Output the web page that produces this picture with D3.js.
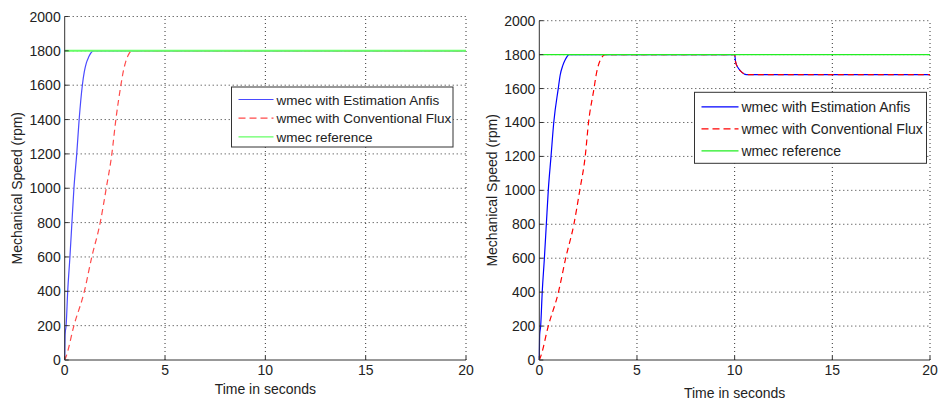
<!DOCTYPE html>
<html>
<head>
<meta charset="utf-8">
<script src="https://cdn.jsdelivr.net/npm/d3@7"></script>
<style>
  body { margin: 0; background: #fff; }
  text { font-family: "Liberation Sans", Arial, sans-serif; fill: #222; }
</style>
</head>
<body>
<script>
// x ticks, y ticks
const xTicks = [0, 5, 10, 15, 20]
const yTicks = [0, 200, 400, 600, 800, 1000, 1200, 1400, 1600, 1800, 2000]
const legendLabels = ["wmec with Estimation Anfis", "wmec with Conventional Flux", "wmec reference"]

// left figure: start-up only
const leftAnfisT = [0, 0.02, 0.07, 0.15, 0.26, 0.36, 0.46, 0.6, 0.72, 0.88, 0.98, 1.08, 1.2, 1.3, 1.43, 20]
const leftAnfisW = [0, 150, 200, 400, 600, 800, 1000, 1200, 1400, 1600, 1680, 1730, 1765, 1787, 1800, 1800]
const leftFluxT = [0, 0.07, 0.46, 0.98, 1.35, 1.77, 2.07, 2.35, 2.55, 2.8, 2.92, 3.05, 3.18, 3.35, 20]
const leftFluxW = [0, 20, 200, 400, 600, 800, 1000, 1200, 1400, 1600, 1680, 1740, 1778, 1800, 1800]

// right figure: start-up then load step at 10 s
const rightAnfisT = [0, 0.02, 0.07, 0.15, 0.26, 0.36, 0.46, 0.6, 0.74, 0.97, 1.07, 1.2, 1.32, 1.42, 1.52, 10, 10.05, 10.2, 10.36, 10.61, 20]
const rightAnfisW = [0, 150, 200, 400, 600, 800, 1000, 1200, 1400, 1600, 1680, 1735, 1768, 1788, 1800, 1800, 1756, 1718, 1697, 1682, 1682]
const rightFluxT = [0, 0.07, 0.46, 0.98, 1.35, 1.77, 2.07, 2.35, 2.52, 2.8, 2.91, 3.03, 3.17, 3.36, 10, 10.05, 10.2, 10.36, 10.61, 20]
const rightFluxW = [0, 20, 200, 400, 600, 800, 1000, 1200, 1400, 1600, 1680, 1740, 1778, 1800, 1800, 1756, 1718, 1697, 1682, 1682]
const refT = [0, 20]
const refW = [1800, 1800]

const svg = d3.select("body").append("svg")
    .attr("width", 938)
    .attr("height", 405)

function zip(t, w) {
    return t.map((d, i) => ({ t: d, w: w[i] }))
}

function drawPanel(p) {
    const x = d3.scaleLinear().domain([0, 20]).range([p.x0, p.x1])
    const y = d3.scaleLinear().domain([0, 2000]).range([p.y0, p.y1])
    const g = svg.append("g")

    // dotted grid
    g.selectAll(".gx").data(xTicks.filter(d => d > 0)).enter().append("line")
        .attr("x1", d => x(d)).attr("x2", d => x(d))
        .attr("y1", p.y0).attr("y2", p.y1)
        .attr("stroke", "#333").attr("stroke-width", 1)
        .attr("stroke-dasharray", "1,3")
    g.selectAll(".gy").data(yTicks.filter(d => d > 0)).enter().append("line")
        .attr("x1", p.x0).attr("x2", p.x1)
        .attr("y1", d => y(d)).attr("y2", d => y(d))
        .attr("stroke", "#333").attr("stroke-width", 1)
        .attr("stroke-dasharray", "1,3")

    const line = d3.line().x(d => x(d.t)).y(d => y(d.w)).curve(d3.curveMonotoneX)

    g.append("path").attr("d", line(zip(p.anfisT, p.anfisW)))
        .attr("fill", "none").attr("stroke", p.blue).attr("stroke-width", 1.2)
    g.append("path").attr("d", line(zip(p.fluxT, p.fluxW)))
        .attr("fill", "none").attr("stroke", p.red).attr("stroke-width", 1.2)
        .attr("stroke-dasharray", "6,4")
    g.append("path").attr("d", line(zip(refT, refW)))
        .attr("fill", "none").attr("stroke", p.green).attr("stroke-width", p.greenW)

    // axes (left + bottom, ticks inward)
    g.append("line").attr("x1", p.x0).attr("x2", p.x0).attr("y1", p.y0).attr("y2", p.y1)
        .attr("stroke", "#333")
    g.append("line").attr("x1", p.x0).attr("x2", p.x1).attr("y1", p.y0).attr("y2", p.y0)
        .attr("stroke", "#333")
    g.selectAll(".ty").data(yTicks).enter().append("line")
        .attr("x1", p.x0).attr("x2", p.x0 + 4)
        .attr("y1", d => y(d)).attr("y2", d => y(d))
        .attr("stroke", "#333")
    g.selectAll(".tx").data(xTicks).enter().append("line")
        .attr("x1", d => x(d)).attr("x2", d => x(d))
        .attr("y1", p.y0).attr("y2", p.y0 - 4)
        .attr("stroke", "#333")

    g.selectAll(".ly").data(yTicks).enter().append("text")
        .attr("x", p.x0 - 4).attr("y", d => y(d) + 5)
        .attr("text-anchor", "end").style("font-size", "14px")
        .text(d => d)
    g.selectAll(".lx").data(xTicks).enter().append("text")
        .attr("x", d => x(d)).attr("y", p.y0 + 15)
        .attr("text-anchor", "middle").style("font-size", "14px")
        .text(d => d)

    g.append("text").attr("x", (p.x0 + p.x1) / 2).attr("y", p.xlabY)
        .attr("text-anchor", "middle").style("font-size", "14px")
        .text("Time in seconds")
    g.append("text")
        .attr("transform", `translate(${p.ylabX},${(p.y0 + p.y1) / 2}) rotate(-90)`)
        .attr("text-anchor", "middle").style("font-size", "14px")
        .text("Mechanical Speed (rpm)")

    // legend
    const L = p.legend
    g.append("rect").attr("x", L.x).attr("y", L.y).attr("width", L.w).attr("height", L.h)
        .attr("fill", "#fff").attr("stroke", "#333")
    const cols = [p.blue, p.red, p.green]
    legendLabels.forEach((lab, i) => {
        const yy = L.y + L.rowTop + i * L.rowH
        g.append("line").attr("x1", L.x + L.lx0).attr("x2", L.x + L.lx1)
            .attr("y1", yy).attr("y2", yy)
            .attr("stroke", cols[i]).attr("stroke-width", 1.2)
            .attr("stroke-dasharray", i == 1 ? "7,4" : null)
        g.append("text").attr("x", L.x + L.lx1 + 3).attr("y", yy + 5)
            .style("font-size", L.fs + "px")
            .text(lab)
    })
}

drawPanel({
    x0: 64.7, x1: 466, y0: 360, y1: 16.5,
    xlabY: 394, ylabX: 22,
    anfisT: leftAnfisT, anfisW: leftAnfisW, fluxT: leftFluxT, fluxW: leftFluxW,
    blue: "#4a4aff", red: "#ff4a4a", green: "#66ff66", greenW: 2,
    legend: { x: 231.5, y: 87, w: 221.5, h: 60, rowTop: 12.5, rowH: 18.7, lx0: 7, lx1: 42, fs: 13.5 }
})

drawPanel({
    x0: 539.3, x1: 930, y0: 360, y1: 20.7,
    xlabY: 398, ylabX: 497,
    anfisT: rightAnfisT, anfisW: rightAnfisW, fluxT: rightFluxT, fluxW: rightFluxW,
    blue: "#0000ff", red: "#ff0000", green: "#22ee22", greenW: 1.3,
    legend: { x: 694.5, y: 92.3, w: 232, h: 71, rowTop: 14.5, rowH: 22, lx0: 7, lx1: 44, fs: 14 }
})
</script>
</body>
</html>
